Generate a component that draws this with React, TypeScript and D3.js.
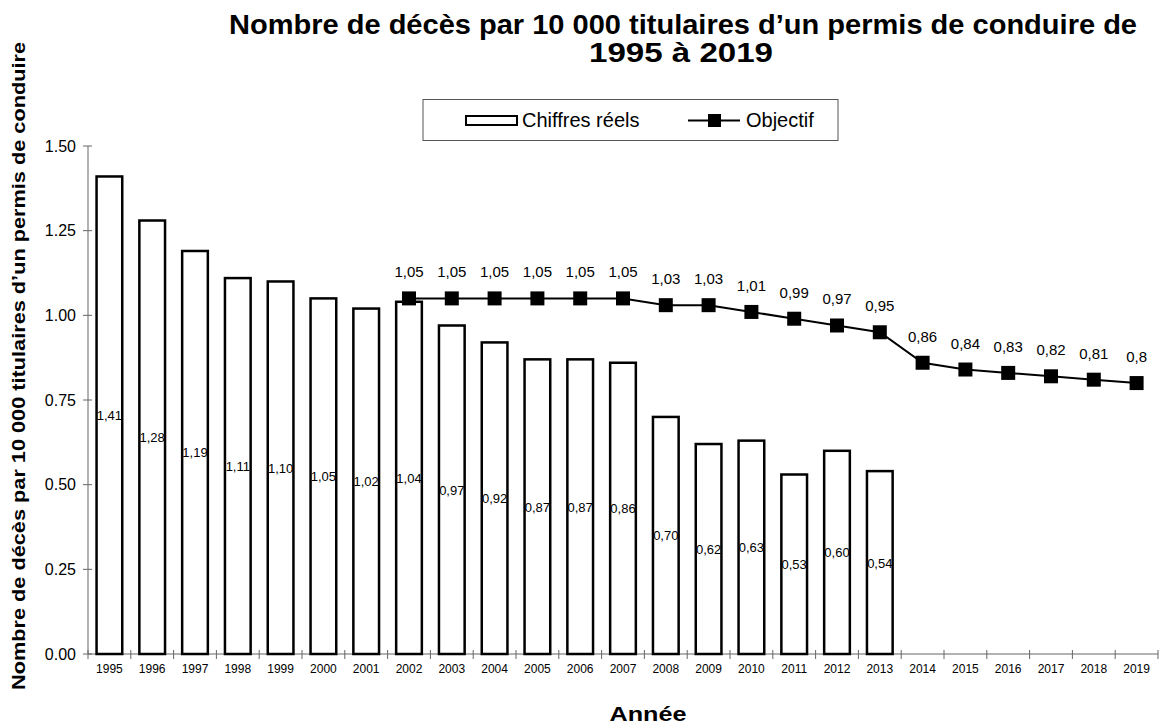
import React from "react";
import * as d3 from "d3";

const years = ["1995","1996","1997","1998","1999","2000","2001","2002","2003","2004","2005","2006","2007","2008","2009","2010","2011","2012","2013","2014","2015","2016","2017","2018","2019"];
const realYears = years.slice(0, 19);
const realValues = [1.41,1.28,1.19,1.11,1.10,1.05,1.02,1.04,0.97,0.92,0.87,0.87,0.86,0.70,0.62,0.63,0.53,0.60,0.54];
const targetYears = years.slice(7);
const targetValues = [1.05,1.05,1.05,1.05,1.05,1.05,1.03,1.03,1.01,0.99,0.97,0.95,0.86,0.84,0.83,0.82,0.81,0.8];
const yTicks = [0, 0.25, 0.5, 0.75, 1.0, 1.25, 1.5];

const W = 1161, H = 728;
const left = 88, right = 1158, top = 146, bottom = 654;
const font = "Arial, 'Liberation Sans', sans-serif";

export default function App() {
  const x = d3.scaleBand<string>().domain(years).range([left, right]).paddingInner(0).paddingOuter(0);
  const y = d3.scaleLinear().domain([0, 1.5]).range([bottom, top]);
  const bw = x.bandwidth() * 0.6;
  const cx = (yr: string) => (x(yr) as number) + x.bandwidth() / 2;
  const line = d3.line<number>().x((_, i) => cx(targetYears[i])).y((v) => y(v));
  const fmtBar = (v: number) => d3.format(".2f")(v).replace(".", ",");
  const fmtLine = (v: number) => String(v).replace(".", ",");
  const bounds = years.map((yr) => x(yr) as number).concat([right]);

  return (
    <svg width={W} height={H} style={{ position: "absolute", left: 0, top: 0, background: "#fff" }} fontFamily={font}>
      <rect x={0} y={0} width={W} height={H} fill="#fff" />
      {/* title */}
      <text x={683} y={34} textAnchor="middle" fontSize={27} fontWeight="bold" textLength={908} lengthAdjust="spacingAndGlyphs">Nombre de décès par 10 000 titulaires d’un permis de conduire de</text>
      <text x={681} y={62} textAnchor="middle" fontSize={27} fontWeight="bold" textLength={184} lengthAdjust="spacingAndGlyphs">1995 à 2019</text>
      {/* legend */}
      <rect x={423} y={99.5} width={415} height={41} fill="#fff" stroke="#555" strokeWidth={1} />
      <rect x={466} y={116} width={51} height={9} fill="#fff" stroke="#000" strokeWidth={2} />
      <text x={522} y={127} fontSize={20}>Chiffres réels</text>
      <line x1={688} x2={740} y1={120.5} y2={120.5} stroke="#000" strokeWidth={2} />
      <rect x={708} y={114} width={13} height={13} fill="#000" />
      <text x={746} y={127} fontSize={20}>Objectif</text>
      {/* y axis */}
      <line x1={left} x2={left} y1={top} y2={bottom} stroke="#666" strokeWidth={1} />
      {yTicks.map((t) => (
        <g key={t}>
          <line x1={left - 5} x2={left + 4} y1={y(t)} y2={y(t)} stroke="#666" />
          <text x={left - 12} y={y(t) + 5.5} textAnchor="end" fontSize={16}>{t.toFixed(2)}</text>
        </g>
      ))}
      {/* x axis */}
      <line x1={left} x2={right} y1={bottom} y2={bottom} stroke="#666" strokeWidth={1} />
      {bounds.map((b, i) => (
        <line key={i} x1={b} x2={b} y1={bottom - 4} y2={bottom + 5} stroke="#666" />
      ))}
      {years.map((yr) => (
        <text key={yr} x={cx(yr)} y={673} textAnchor="middle" fontSize={12}>{yr}</text>
      ))}
      {/* bars */}
      {realValues.map((v, i) => (
        <rect key={i} x={cx(realYears[i]) - bw / 2} y={y(v)} width={bw} height={bottom - y(v)} fill="#fff" stroke="#000" strokeWidth={2.5} />
      ))}
      {realValues.map((v, i) => (
        <text key={"l" + i} x={cx(realYears[i])} y={(y(v) + bottom) / 2 + 5} textAnchor="middle" fontSize={13}>{fmtBar(v)}</text>
      ))}
      {/* line */}
      <path d={line(targetValues) || ""} fill="none" stroke="#000" strokeWidth={2} />
      {targetValues.map((v, i) => (
        <rect key={"m" + i} x={cx(targetYears[i]) - 7} y={y(v) - 7} width={14} height={14} fill="#000" />
      ))}
      {targetValues.map((v, i) => (
        <text key={"t" + i} x={cx(targetYears[i])} y={y(v) - 21} textAnchor="middle" fontSize={15}>{fmtLine(v)}</text>
      ))}
      {/* axis titles */}
      <text transform={`translate(25, 366) rotate(-90)`} textAnchor="middle" fontSize={18} fontWeight="bold" textLength={648} lengthAdjust="spacingAndGlyphs">Nombre de décès par 10 000 titulaires d’un permis de conduire</text>
      <text x={648} y={721} textAnchor="middle" fontSize={21} fontWeight="bold" textLength={77} lengthAdjust="spacingAndGlyphs">Année</text>
    </svg>
  );
}
